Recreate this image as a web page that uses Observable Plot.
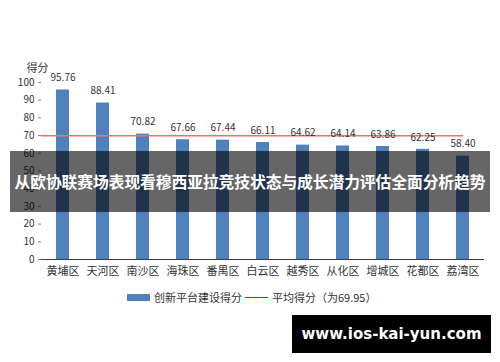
<!DOCTYPE html>
<html>
<head>
<meta charset="utf-8">
<script src="https://cdn.jsdelivr.net/npm/d3@7"></script>
<script src="https://cdn.jsdelivr.net/npm/@observablehq/plot@0.6"></script>
<style>
  body { margin: 0; background: #fff; font-family: "Noto Sans CJK SC", "Noto Sans", sans-serif; }
  #wrap { position: relative; width: 500px; height: 362px; overflow: hidden; }
  #chart { position: absolute; left: 0; top: 0; }
  #legend { position: absolute; top: 289px; left: 0; width: 500px; font-size: 11px; color: #333; }
  .lg { position: absolute; display: flex; align-items: center; white-space: nowrap; }
  #banner { position: absolute; left: 10px; top: 151px; width: 480px; height: 61px; background: rgba(0,0,0,0.6);
    color: #fff; font-weight: bold; font-size: 15.8px; display: flex; align-items: center; justify-content: center; white-space: nowrap; letter-spacing: -0.1px; }
  #mark { position: absolute; left: 292px; top: 315px; width: 199px; height: 38px; background: #000; color: #fff;
    font-weight: bold; font-size: 15px; display: flex; align-items: center; justify-content: center; font-family: "DejaVu Sans", sans-serif; }
</style>
</head>
<body>
<div id="wrap">
  <div id="chart"></div>
  <div id="legend"></div>
  <div id="banner"></div>
  <div id="mark"></div>
</div>
<script>
const districts = ["黄埔区","天河区","南沙区","海珠区","番禺区","白云区","越秀区","从化区","增城区","花都区","荔湾区"];
const scores = [95.76, 88.41, 70.82, 67.66, 67.44, 66.11, 64.62, 64.14, 63.86, 62.25, 58.40];
const average = 69.95;
const yTicks = [0,10,20,30,40,50,60,70,80,90,100];
const yLabel = "得分";
const seriesName = "创新平台建设得分";
const avgName = "平均得分（为69.95）";
const title = "从欧协联赛场表现看穆西亚拉竞技状态与成长潜力评估全面分析趋势";
const watermark = "www.ios-kai-yun.com";

const data = districts.map((d, i) => ({district: d, score: scores[i]}));
const font = '"Noto Sans CJK SC", "Noto Sans", sans-serif';

const plot = Plot.plot({
  width: 500,
  height: 285,
  marginLeft: 41,
  marginRight: 16,
  marginTop: 82,
  marginBottom: 26,
  style: {fontFamily: font, fontSize: "10px", color: "#333", background: "transparent"},
  x: {domain: districts, paddingInner: 0.68, paddingOuter: 0.34},
  y: {domain: [0, 100]},
  marks: [
    Plot.barY(data, {x: "district", y: "score", fill: "#4f81bd"}),
    Plot.ruleY([average], {stroke: "#ff6b6b", strokeWidth: 1.5, insetRight: 21}),
    Plot.text(data, {x: "district", y: "score", text: d => d.score.toFixed(2), dy: -12, fontSize: 10, fill: "#333"}),
    Plot.axisY({ticks: yTicks, tickSize: 3, tickPadding: 4, label: null, stroke: "#808080", fontSize: 10}),
    Plot.ruleX([0], {frameAnchor: "left", stroke: "#808080"}),
    Plot.axisX({tickSize: 0, tickPadding: 8, label: null, fontSize: 11}),
    Plot.ruleY([0], {stroke: "#404040", strokeWidth: 1.2}),
    Plot.text([yLabel], {frameAnchor: "top-left", dx: -15, dy: -18, fontSize: 11, fill: "#333"})
  ]
});
document.getElementById("chart").appendChild(plot);

const legend = document.getElementById("legend");
legend.innerHTML =
  `<div class="lg" style="left:127px;top:0px;height:16px"><span style="display:inline-block;width:23px;height:7px;background:#4f81bd;margin-right:4px"></span>${seriesName}</div>` +
  `<div class="lg" style="left:245px;top:0px;height:16px"><span style="display:inline-block;width:23px;height:0;border-top:1.5px solid #f00;margin-right:4px"></span>${avgName}</div>`;
document.getElementById("banner").textContent = title;
document.getElementById("mark").textContent = watermark;
</script>
</body>
</html>
